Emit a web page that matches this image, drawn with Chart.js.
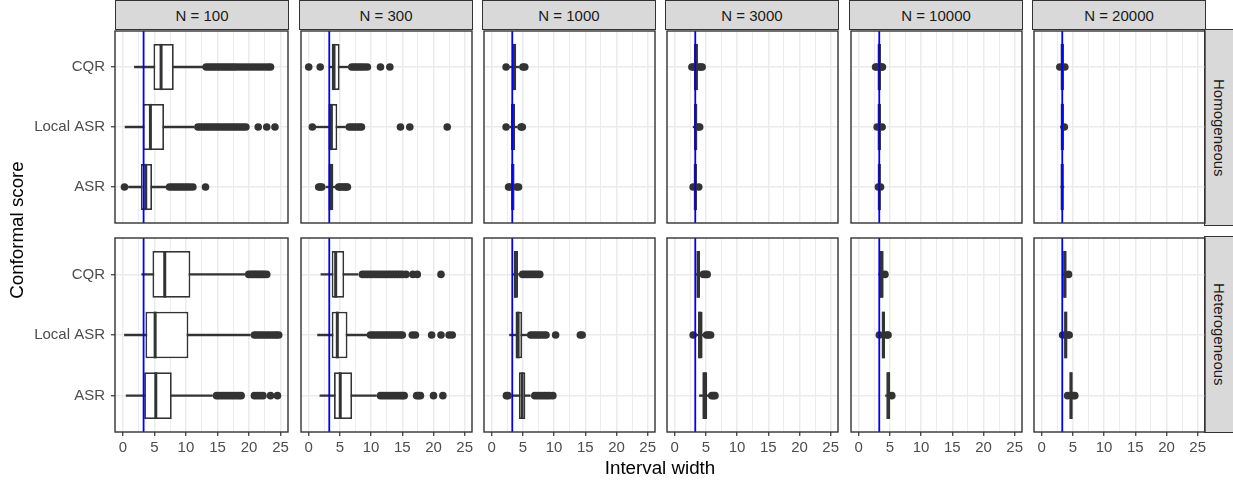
<!DOCTYPE html>
<html>
<head>
<meta charset="utf-8">
<script src="https://cdn.jsdelivr.net/npm/chart.js@4.4.1/dist/chart.umd.min.js"></script>
<style>
  body{margin:0;background:#fff;width:1233px;height:481px;position:relative;overflow:hidden;font-family:"Liberation Sans",Arial,sans-serif}
  canvas{position:absolute}
  .strip{position:absolute;background:#D9D9D9;border:1.2px solid #333;box-sizing:border-box;color:#1A1A1A;font-size:15px;display:flex;align-items:center;justify-content:center}
  .strip.side{writing-mode:vertical-rl}
  .title{position:absolute;font-size:18.75px;color:#000;white-space:nowrap}
</style>
</head>
<body>
<script>
// facets and categories
const sampleSizes = [100, 300, 1000, 3000, 10000, 20000];
const settings = ['Homogeneous', 'Heterogeneous'];
const methods = ['ASR', 'Local ASR', 'CQR']; // bottom to top
const xTicks = [0, 5, 10, 15, 20, 25];
const xMinorTicks = [2.5, 7.5, 12.5, 17.5, 22.5];
const oracleWidth = 3.29;

// box stats per N: [lower whisker, q1, median, q3, upper whisker]
const homCQR = [[1.84,4.85,6.06,8.07,12.8],[3.3,3.68,4.05,4.95,6.3],[2.9,3.24,3.6,3.92,4.4],[2.9,3.08,3.4,3.71,3.9],[2.9,3.03,3.3,3.55,3.75],[3.0,3.03,3.3,3.55,3.6]];
const homLocal = [[0.36,3.16,4.37,6.53,11.3],[1.2,3.16,3.63,4.58,5.9],[2.9,3.08,3.45,3.76,4.1],[2.95,3.08,3.35,3.6,3.7],[2.9,3.03,3.3,3.55,3.7],[3.0,3.05,3.3,3.55,3.6]];
const homASR = [[0.9,2.85,3.63,4.63,6.8],[2.8,3.16,3.58,3.95,4.3],[2.95,3.13,3.38,3.6,3.85],[3.0,3.08,3.3,3.55,3.75],[3.05,3.08,3.3,3.5,3.55],[3.05,3.05,3.28,3.5,3.55]];
const hetCQR = [[3.0,4.69,6.64,10.7,19.3],[1.95,3.68,4.32,5.68,7.9],[3.4,3.55,3.8,4.23,4.3],[3.3,3.53,3.74,4.05,4.3],[3.2,3.37,3.65,4.0,4.05],[3.3,3.45,3.7,3.97,4.05]];
const hetLocal = [[0.26,3.58,5.12,10.39,20.2],[1.42,3.68,4.58,6.21,9.3],[2.86,3.81,4.23,4.87,5.66],[3.4,3.74,4.0,4.47,4.9],[3.5,3.68,3.95,4.21,4.3],[3.5,3.6,3.85,4.08,4.1]];
const hetASR = [[0.53,3.38,5.22,7.75,14.2],[1.79,4.05,5.05,6.95,10.85],[3.3,4.34,4.87,5.39,6.18],[3.95,4.42,4.8,5.21,5.6],[4.3,4.42,4.75,5.05,5.1],[4.3,4.45,4.7,4.92,4.95]];

// outliers per N
const homCQROut = [
  [13.2,13.6,14.0,14.4,14.8,15.2,15.6,16.0,16.4,16.8,17.2,17.6,18.0,18.5,19.0,19.5,20.0,20.5,21.0,21.5,22.0,22.5,23.0,23.4],
  [0.0,1.84,6.9,7.3,7.7,8.1,8.5,8.9,9.4,11.5,13.0],
  [2.3,5.0,5.3],[2.75,3.0,3.9,4.15,4.4],[2.7,2.9,3.7,3.8],[2.9,3.7]];
const homLocalOut = [
  [11.9,12.3,12.7,13.1,13.5,13.9,14.3,14.7,15.1,15.5,15.9,16.3,16.7,17.1,17.5,17.9,18.3,18.7,19.1,19.5,21.45,22.8,24.1],
  [0.58,6.5,6.9,7.3,7.7,8.1,8.45,14.7,16.2,22.2],
  [2.3,4.7,4.9],[3.75,4.0],[2.95,3.75],[3.62]];
const homASROut = [
  [0.26,7.4,7.8,8.2,8.6,9.0,9.4,9.8,10.2,10.6,11.1,13.1],
  [1.6,1.85,2.1,4.8,5.1,5.4,5.7,6.0,6.2],
  [2.7,2.9,4.0,4.3],[2.95,3.85],[3.15,3.5],[]];
const hetCQROut = [
  [19.95,20.3,20.6,20.9,21.2,21.5,21.8,22.1,22.4,22.8],
  [8.6,9.0,9.4,9.8,10.2,10.6,11.0,11.4,11.8,12.2,12.6,13.0,13.4,13.8,14.2,14.6,15.0,15.6,16.7,17.4,21.2],
  [4.95,5.3,5.7,6.1,6.5,6.9,7.3,7.7],[4.6,4.9,5.2],[4.2],[4.3]];
const hetLocalOut = [
  [20.85,21.2,21.6,22.0,22.4,22.8,23.2,23.6,24.0,24.35,24.7],
  [9.9,10.3,10.7,11.1,11.5,11.9,12.3,12.7,13.1,13.5,13.9,14.3,14.7,15.0,16.6,17.1,19.7,21.2,22.5,23.0],
  [6.25,6.65,7.05,7.45,7.85,8.3,8.7,10.24,14.2,14.5],[2.95,5.1,5.4,5.75],[3.3,4.5,4.7],[3.35,4.2,4.4]];
const hetASROut = [
  [14.85,15.2,15.6,16.0,16.4,16.8,17.2,17.6,18.0,18.4,18.75,20.85,21.3,21.75,22.2,23.4,24.5],
  [11.5,11.9,12.3,12.7,13.1,13.5,13.9,14.3,14.7,15.0,15.3,17.3,17.6,17.9,20.0,21.5],
  [2.35,2.6,6.9,7.3,7.7,8.1,8.5,8.9,9.3,9.8],[5.95,6.2,6.45],[5.3],[4.15,5.0,5.3]];

const panelStats = [[homASR, homLocal, homCQR], [hetASR, hetLocal, hetCQR]];
const panelOutliers = [[homASROut, homLocalOut, homCQROut], [hetASROut, hetLocalOut, hetCQROut]];

// layout
const panelLefts = [115, 299, 482, 665, 849, 1032];
const rowTops = [29, 236];
const PW = 173, PH = 196, PT = 2, PR = 6;
const ink = '#333333';
const tickFont = {family: '"Liberation Sans", Arial, sans-serif', size: 15};

const boxExtras = {
  id: 'boxExtras',
  afterDatasetsDraw(chart) {
    const {ctx, chartArea: a, scales: {x}} = chart;
    const meds = chart.data.datasets[0].medians;
    ctx.save();
    ctx.strokeStyle = ink;
    ctx.lineWidth = 3;
    chart.getDatasetMeta(0).data.forEach((bar, i) => {
      const px = x.getPixelForValue(meds[i]);
      ctx.beginPath();
      ctx.moveTo(px, bar.y - bar.height / 2);
      ctx.lineTo(px, bar.y + bar.height / 2);
      ctx.stroke();
    });
    const ox = x.getPixelForValue(oracleWidth);
    ctx.strokeStyle = '#0000FF';
    ctx.lineWidth = 1.8;
    ctx.beginPath();
    ctx.moveTo(ox, a.top);
    ctx.lineTo(ox, a.bottom);
    ctx.stroke();
    ctx.restore();
  },
  afterDraw(chart) {
    const {ctx, chartArea: a} = chart;
    ctx.save();
    ctx.strokeStyle = ink;
    ctx.lineWidth = 1.4;
    ctx.strokeRect(a.left, a.top, a.right - a.left, a.bottom - a.top);
    ctx.restore();
  }
};

function addDiv(cls, text, css) {
  const d = document.createElement('div');
  d.className = cls;
  d.textContent = text;
  Object.assign(d.style, css);
  document.body.appendChild(d);
}

function makePanel(r, c) {
  const AXL = c === 0 ? 115 : 2;
  const AXB = r === 1 ? 30 : 2;
  const cv = document.createElement('canvas');
  cv.width = AXL + PW + PR;
  cv.height = PT + PH + AXB;
  cv.style.left = (panelLefts[c] - AXL) + 'px';
  cv.style.top = (rowTops[r] - PT) + 'px';
  document.body.appendChild(cv);

  const stats = panelStats[r].map(s => s[c]);
  const boxes = stats.map((s, k) => ({y: k + 1, x: [s[1], s[3]]}));
  const whiskers = stats.map((s, k) => ({y: k + 1, x: [s[0], s[4]]}));
  const outliers = [];
  panelOutliers[r].forEach((o, k) => o[c].forEach(v => outliers.push({x: v, y: k + 1})));
  const isMajor = v => xTicks.includes(v);

  new Chart(cv, {
    type: 'bar',
    data: {
      datasets: [
        {data: boxes, medians: stats.map(s => s[2]), backgroundColor: '#fff', borderColor: ink,
         borderWidth: 1.8, borderSkipped: false, grouped: false, categoryPercentage: 1, barPercentage: 0.77},
        {data: whiskers, backgroundColor: ink, borderWidth: 0, grouped: false, barThickness: 1.7},
        {type: 'scatter', data: outliers, backgroundColor: ink, borderWidth: 0, pointRadius: 3.8}
      ]
    },
    options: {
      indexAxis: 'y',
      responsive: false,
      animation: false,
      events: [],
      layout: {padding: {top: PT, right: PR}},
      plugins: {legend: {display: false}, tooltip: {enabled: false}},
      scales: {
        x: {
          type: 'linear', min: -1.24, max: 26.17, stacked: false, offset: false,
          afterBuildTicks: s => { s.ticks = xTicks.concat(xMinorTicks).sort((a, b) => a - b).map(v => ({value: v})); },
          afterFit: s => { s.height = AXB; s.paddingLeft = 0; s.paddingRight = 0; },
          border: {display: false},
          grid: {
            offset: false,
            color: '#EBEBEB',
            lineWidth: ctx => isMajor(ctx.tick.value) ? 1.5 : 0.9,
            drawTicks: r === 1, tickLength: 4, tickWidth: 1.2,
            tickColor: ctx => isMajor(ctx.tick.value) ? ink : 'rgba(0,0,0,0)'
          },
          ticks: {display: r === 1, autoSkip: false, maxRotation: 0, padding: 3, color: '#4D4D4D', font: tickFont,
                  callback: v => isMajor(v) ? String(v) : ''}
        },
        y: {
          type: 'linear', min: 0.4, max: 3.6, offset: false,
          afterBuildTicks: s => { s.ticks = methods.map((m, k) => ({value: k + 1})); },
          afterFit: s => { s.width = AXL; s.paddingTop = 0; s.paddingBottom = 0; },
          border: {display: false},
          grid: {offset: false, color: '#EBEBEB', lineWidth: 1.5, drawTicks: c === 0, tickLength: 4, tickWidth: 1.2, tickColor: ink},
          ticks: {display: c === 0, autoSkip: false, padding: 6, color: '#4D4D4D', font: tickFont,
                  callback: v => methods[v - 1]}
        }
      }
    },
    plugins: [boxExtras]
  });
}

sampleSizes.forEach((n, c) => {
  addDiv('strip', 'N = ' + n, {left: panelLefts[c] + 'px', top: '0px', width: (PW + 1) + 'px', height: '30px'});
});
settings.forEach((s, r) => {
  addDiv('strip side', s, {left: '1204px', top: rowTops[r] + 'px', width: '31px', height: (PH + 1) + 'px'});
  sampleSizes.forEach((n, c) => makePanel(r, c));
});

addDiv('title', 'Interval width', {left: '560px', width: '200px', textAlign: 'center', top: '456px', lineHeight: '24px'});
addDiv('title', 'Conformal score', {left: '-83px', width: '200px', textAlign: 'center', top: '218px', lineHeight: '24px', transform: 'rotate(-90deg)'});
</script>
</body>
</html>
